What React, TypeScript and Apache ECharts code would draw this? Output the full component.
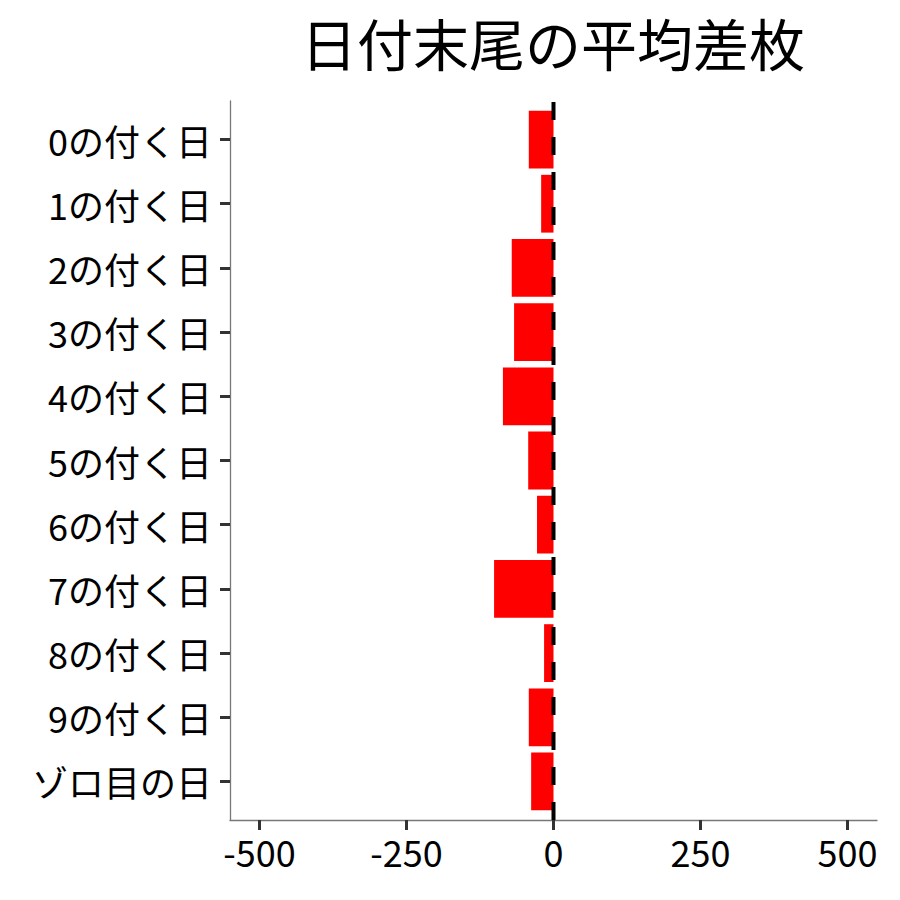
import React, { useEffect, useRef } from "react";
import * as echarts from "echarts";

const title = "日付末尾の平均差枚";
const categories = [
  "0の付く日",
  "1の付く日",
  "2の付く日",
  "3の付く日",
  "4の付く日",
  "5の付く日",
  "6の付く日",
  "7の付く日",
  "8の付く日",
  "9の付く日",
  "ゾロ目の日",
];
const values = [-42, -21, -71, -67, -86, -43, -28, -101, -16, -42, -38];
const xTicks = [-500, -250, 0, 250, 500];

const FONT = "'Noto Sans CJK JP', 'Noto Sans', sans-serif";

export default function App() {
  const ref = useRef<HTMLDivElement>(null);
  useEffect(() => {
    if (!ref.current) return;
    const chart = echarts.init(ref.current, null, { renderer: "svg" });
    const idx = categories.map((_, i) => i);
    chart.setOption({
      animation: false,
      backgroundColor: "#ffffff",
      title: {
        text: title,
        left: 553,
        top: 13,
        padding: 0,
        textAlign: "center",
        textStyle: {
          fontFamily: FONT,
          fontSize: 56,
          fontWeight: "normal",
          color: "#000000",
        },
      },
      grid: { left: 230, right: 23, top: 101, bottom: 80, containLabel: false },
      xAxis: {
        type: "value",
        min: -550,
        max: 550,
        splitLine: { show: false },
        axisLine: { show: true, onZero: false, lineStyle: { color: "#777777", width: 1.3 } },
        axisTick: { show: true, length: 10, lineStyle: { color: "#333333", width: 3 }, customValues: xTicks },
        axisLabel: {
          customValues: xTicks,
          fontFamily: FONT,
          fontSize: 36,
          color: "#000000",
          margin: 13,
        },
      },
      yAxis: {
        type: "value",
        inverse: true,
        min: -0.6,
        max: 10.6,
        splitLine: { show: false },
        axisLine: { show: true, onZero: false, lineStyle: { color: "#777777", width: 1.3 } },
        axisTick: { show: true, length: 10, lineStyle: { color: "#333333", width: 3 }, customValues: idx },
        axisLabel: {
          customValues: idx,
          fontFamily: FONT,
          fontSize: 36,
          color: "#000000",
          margin: 18,
          formatter: (v: number) => categories[Math.round(v)] ?? "",
        },
      },
      series: [
        {
          type: "custom",
          data: values.map((v, i) => [v, i]),
          encode: { x: 0, y: 1 },
          renderItem: (params: any, api: any) => {
            const v = api.value(0);
            const i = api.value(1);
            const start = api.coord([0, i]);
            const end = api.coord([v, i]);
            const h = api.size([0, 0.9])[1];
            const x0 = Math.min(start[0], end[0]);
            return {
              type: "rect",
              shape: { x: x0, y: start[1] - h / 2, width: Math.abs(start[0] - end[0]), height: h },
              style: { fill: "#ff0000" },
            };
          },
          z: 2,
        },
        {
          type: "line",
          data: [
            [0, 10.6],
            [0, -0.6],
          ],
          symbol: "none",
          lineStyle: { color: "#000000", width: 4, type: [18, 17] },
          z: 3,
        },
      ],
    });
    return () => chart.dispose();
  }, []);
  return (
    <div
      ref={ref}
      style={{ position: "absolute", left: 0, top: 0, width: 900, height: 900, background: "#ffffff" }}
    />
  );
}
